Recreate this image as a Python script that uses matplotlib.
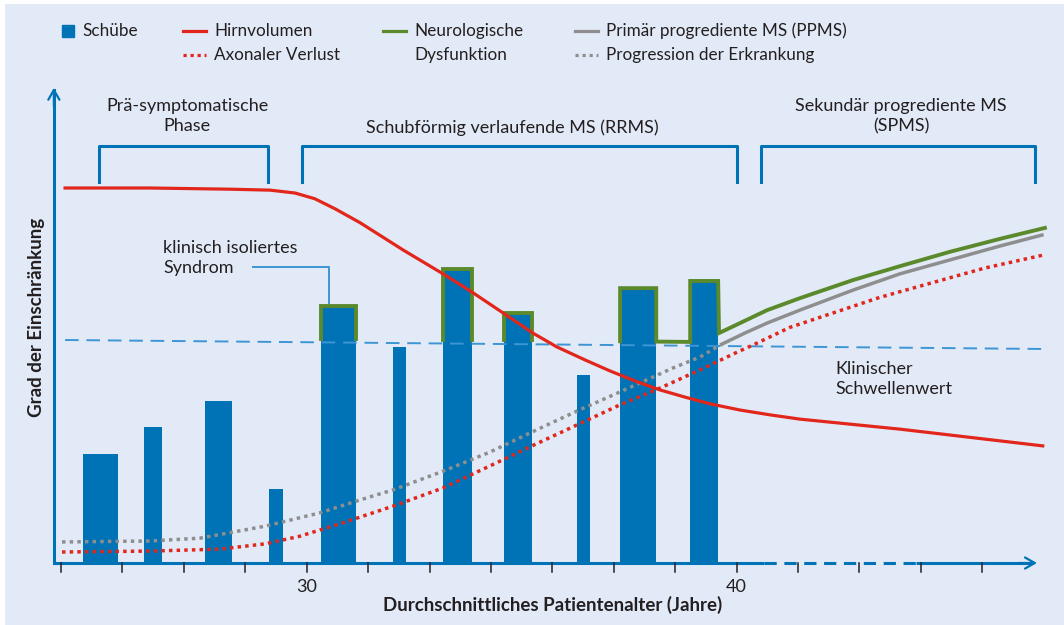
import numpy as np
import matplotlib.pyplot as plt
from matplotlib.lines import Line2D
from matplotlib.patches import Rectangle

# Schübe (Beginn, Ende in Jahren, Höhe)
bar_start = [24.80, 26.22, 27.64, 29.12, 30.33, 32.01, 33.17, 34.59, 36.29, 37.29, 38.92]
bar_end = [25.61, 26.64, 28.27, 29.45, 31.15, 32.31, 33.84, 35.24, 36.60, 38.13, 39.57]
bar_height = [22.8, 28.5, 33.9, 15.5, 53.8, 45.2, 61.5, 52.3, 39.3, 57.5, 59.0]
# Schübe mit neurologischer Dysfunktion (grüne Umrandung), zusammenhängende Gruppen
outline_groups = [[4], [6], [7], [9, 10]]

# Hirnvolumen
brain_x = [24.38, 26.36, 28.22, 29.15, 29.73, 30.19, 30.66, 31.24, 32.24, 33.17, 33.84,
           34.57, 35.26, 35.82, 36.47, 37.05, 37.63, 38.22, 38.80, 39.38, 40.08, 40.77,
           41.47, 43.80, 47.12]
brain_y = [78.45, 78.45, 78.2, 78.0, 77.4, 76.2, 74.1, 71.2, 65.5, 60.5, 56.7,
           52.3, 48.1, 45.2, 42.5, 40.2, 38.1, 36.2, 34.7, 33.3, 32.0, 31.0,
           30.1, 28.0, 24.5]

# Axonaler Verlust
axon_x = [24.31, 26.36, 27.98, 29.03, 29.84, 30.77, 32.01, 33.17, 34.26, 35.24, 36.29,
          37.29, 38.22, 39.15, 40.01, 40.38, 41.24, 43.34, 45.77, 47.12]
axon_y = [2.3, 2.5, 2.9, 4.0, 5.6, 8.2, 11.9, 15.7, 20.3, 24.5, 28.9,
          33.1, 36.6, 40.4, 44.1, 45.6, 49.3, 55.6, 61.7, 64.4]

# Progression der Erkrankung
prog_x = [24.31, 26.36, 27.52, 29.03, 30.31, 31.17, 32.01, 33.17, 34.26, 35.24, 36.29,
          37.29, 38.52, 39.15, 39.66]
prog_y = [4.4, 4.6, 5.2, 7.7, 10.5, 13.0, 15.3, 19.2, 23.2, 27.4, 31.8,
          35.8, 40.8, 43.1, 45.8]

# PPMS
ppms_x = [39.66, 40.19, 40.71, 41.47, 42.71, 43.80, 44.96, 46.12, 47.10]
ppms_y = [45.8, 48.1, 50.2, 52.9, 57.1, 60.5, 63.4, 66.3, 68.6]

# Neurologische Dysfunktion (nach letztem Schub)
neuro_x = [39.59, 40.08, 40.71, 41.47, 42.71, 43.80, 44.96, 46.12, 47.17]
neuro_y = [48.1, 50.2, 52.9, 55.4, 59.2, 62.1, 65.1, 67.8, 70.1]

# klinischer Schwellenwert
thr_x = [24.38, 47.17]
thr_y = [46.65, 44.77]

tick_years = [30 + k * 10 / 7 for k in range(-4, 12)]

BLUE = '#0072b6'
LIGHTBLUE = '#3d95d4'
RED = '#e2261c'
GREEN = '#5b8a2c'
GRAY = '#8e8e8e'
TXT = '#231f20'
BG = '#e3eaf7'

plt.rcParams['font.family'] = ['Lato', 'DejaVu Sans']

fig = plt.figure(figsize=(10.64, 6.25), dpi=100)
fig.patch.set_facecolor('white')
fig.patches.append(Rectangle((5 / 1064, 0), 1, 1 - 4 / 625, transform=fig.transFigure,
                             facecolor=BG, edgecolor='none', zorder=-10))
ax = fig.add_axes([0, 0, 1, 1])
ax.set_facecolor('none')
ax.set_xlim(22.867, 47.614)
ax.set_ylim(-12.97, 117.78)
ax.axis('off')

# bars
starts = np.array(bar_start)
ends = np.array(bar_end)
heights = np.array(bar_height)
ax.bar(starts, heights, width=ends - starts, align='edge', color=BLUE, zorder=2)


def thr_at(x):
    return np.interp(x, thr_x, thr_y) + 0.8


# green outline of bars above threshold
for gi, grp in enumerate(outline_groups):
    xs, ys = [], []
    for j, i in enumerate(grp):
        xs += [starts[i], starts[i], ends[i]]
        ys += [thr_at(starts[i]), heights[i], heights[i]]
        if j < len(grp) - 1 or gi < len(outline_groups) - 1:
            xs.append(ends[i])
            ys.append(thr_at(ends[i]))
    if gi == len(outline_groups) - 1:
        xs += neuro_x
        ys += neuro_y
    ax.plot(xs, ys, color=GREEN, lw=2.8, solid_joinstyle='miter', zorder=3)

# threshold
ax.plot(thr_x, thr_y, color=LIGHTBLUE, lw=1.4, dashes=(7, 4), zorder=3)

# curves
ax.plot(prog_x, prog_y, color=GRAY, lw=2.5, dashes=(1, 1.2), zorder=4)
ax.plot(ppms_x, ppms_y, color=GRAY, lw=2.5, zorder=4)
ax.plot(axon_x, axon_y, color=RED, lw=2.5, dashes=(1, 1.2), zorder=4)
ax.plot(brain_x, brain_y, color=RED, lw=2.3, zorder=4)

# axes
ax.plot([24.12, 40.64], [0, 0], color=BLUE, lw=2.2, solid_capstyle='butt', zorder=5)
ax.plot([40.64, 44.17], [0, 0], color=BLUE, lw=2.2, dashes=(4, 2.5), zorder=5)
ax.plot([44.17, 46.9], [0, 0], color=BLUE, lw=2.2, solid_capstyle='butt', zorder=5)
ax.annotate('', xy=(47.05, 0), xytext=(46.5, 0),
            arrowprops=dict(arrowstyle='->,head_length=0.7,head_width=0.4', color=BLUE, lw=1.6))
ax.plot([24.12, 24.12], [0, 99], color=BLUE, lw=2.2, zorder=5)
ax.annotate('', xy=(24.12, 100), xytext=(24.12, 95),
            arrowprops=dict(arrowstyle='->,head_length=0.7,head_width=0.4', color=BLUE, lw=1.6))
for t in tick_years:
    ax.plot([t, t], [0, -1.9], color=TXT, lw=1.1, zorder=5)
ax.text(30, -3.4, '30', ha='center', va='top', fontsize=13, color=TXT)
ax.text(40, -3.4, '40', ha='center', va='top', fontsize=13, color=TXT)


def ftxt(x, y, s, **kw):
    kw.setdefault('fontsize', 13)
    kw.setdefault('color', TXT)
    fig.text(x / 1064, 1 - y / 625, s, **kw)


ftxt(553, 605, 'Durchschnittliches Patientenalter (Jahre)', ha='center', va='center',
     fontweight='bold', fontsize=13.5)
ftxt(37, 317, 'Grad der Einschränkung', ha='center', va='center', rotation=90,
     fontweight='bold', fontsize=13.5)

# phase brackets
for x0, x1 in [(99, 268), (302, 737), (761, 1035)]:
    fig.add_artist(Line2D([x0 / 1064, x0 / 1064, x1 / 1064, x1 / 1064],
                          [1 - 182 / 625, 1 - 146 / 625, 1 - 146 / 625, 1 - 182 / 625],
                          color=BLUE, lw=2.2))
ftxt(187, 116, 'Prä-symptomatische\nPhase', ha='center', va='center', linespacing=1.3)
ftxt(512, 128, 'Schubförmig verlaufende MS (RRMS)', ha='center', va='center')
ftxt(901, 116, 'Sekundär progrediente MS\n(SPMS)', ha='center', va='center', linespacing=1.3)

ftxt(163, 258, 'klinisch isoliertes\nSyndrom', ha='left', va='center', linespacing=1.3)
fig.add_artist(Line2D([253 / 1064, 329 / 1064, 329 / 1064],
                      [1 - 267 / 625, 1 - 267 / 625, 1 - 303 / 625], color=LIGHTBLUE, lw=1.4))
ftxt(835, 379, 'Klinischer\nSchwellenwert', ha='left', va='center', linespacing=1.3)

# legend
fig.add_artist(Line2D([68 / 1064], [1 - 31 / 625], marker='s', markersize=8.5,
                      color=BLUE, linestyle='none'))
ftxt(82, 31, 'Schübe', va='center', fontsize=12.3)
legend_lines = [(183, 31, RED, None, 'Hirnvolumen'),
                (183, 55, RED, (1, 1.2), 'Axonaler Verlust'),
                (383, 31, GREEN, None, 'Neurologische'),
                (575, 31, GRAY, None, 'Primär progrediente MS (PPMS)'),
                (575, 55, GRAY, (1, 1.2), 'Progression der Erkrankung')]
for x0, y0, c, d, lab in legend_lines:
    ln = Line2D([x0 / 1064, (x0 + 23) / 1064], [1 - y0 / 625] * 2, color=c, lw=2.3)
    if d:
        ln.set_dashes(d)
    fig.add_artist(ln)
    ftxt(x0 + 31, y0, lab, va='center', fontsize=12.3)
ftxt(414, 55, 'Dysfunktion', va='center', fontsize=12.3)

fig.savefig('out.png', dpi=100)
